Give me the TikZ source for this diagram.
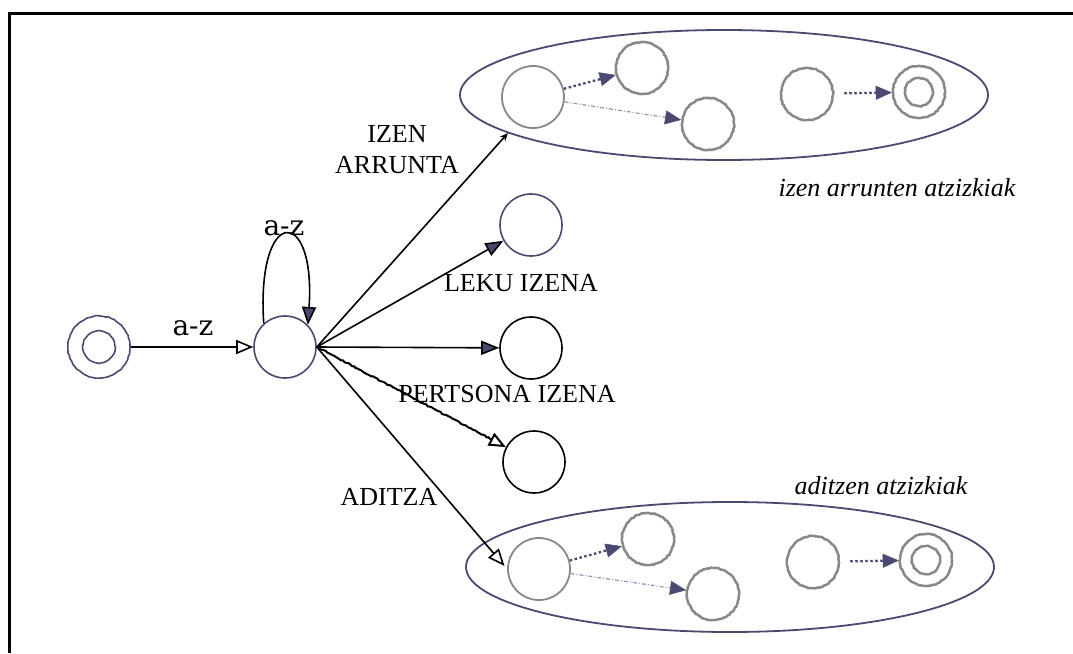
\documentclass[tikz,border=0pt]{standalone}
\usepackage{fontspec}
\setmainfont{Liberation Serif}
\newfontfamily\symlabfont{DejaVu Serif}
\usetikzlibrary{arrows.meta,shapes.geometric,decorations.pathmorphing}
\definecolor{slate}{RGB}{74,74,112}
\definecolor{stategray}{RGB}{136,136,136}
\definecolor{lightslate}{RGB}{150,150,180}

\begin{document}
\begin{tikzpicture}[x=1pt,y=-1pt,
  state/.style={circle, draw, inner sep=0pt, minimum size=62pt, line width=1.6pt},
  small/.style={circle, draw=stategray, inner sep=0pt, minimum size=52pt, line width=2.5pt,
    decorate, decoration={random steps, segment length=2pt, amplitude=0.5pt}},
  group/.style={ellipse, draw=slate, line width=1.8pt, inner sep=0pt,
    minimum width=528pt, minimum height=130pt},
  lab/.style={font=\fontsize{26}{30}\selectfont, inner sep=0pt, anchor=base},
  biglab/.style={font=\symlabfont\fontsize{28}{32}\selectfont, inner sep=0pt, anchor=base},
  ital/.style={font=\fontsize{26}{30}\selectfont\itshape, inner sep=0pt, anchor=base},
  edge/.style={draw=black, line width=1.6pt},
  fillhead/.style={-{Triangle[length=18pt, width=14pt, fill=slate]}},
  openhead/.style={-{Triangle[open, length=17pt, width=14pt, fill=white]}},
  densedot/.style={draw=slate, line width=2.3pt, dash pattern=on 2.5pt off 2.5pt,
    -{Triangle[length=16pt, width=14pt, color=slate, fill=slate, line width=0.5pt]}},
  thindot/.style={draw=lightslate, line width=1.2pt, dash pattern=on 4pt off 2pt on 1pt off 2pt,
    -{Triangle[length=16pt, width=14pt, color=slate, fill=slate, line width=0.5pt]}}
]
\useasboundingbox (0,0) rectangle (1073,653);

% frame (top and left sides)
\draw[line width=3pt] (9.5,653) -- (9.5,13.5) -- (1073,13.5);

% suffix groups
\node[group] (topell) at (724,95) {};
\node[group] (botell) at (730,567) {};

% main automaton states
\node[state, draw=slate, decorate, decoration={random steps, segment length=3pt, amplitude=0.4pt}] (start) at (99,347) {};
\node[circle, draw=slate, line width=1.6pt, inner sep=0pt, minimum size=32pt,
  decorate, decoration={random steps, segment length=3pt, amplitude=0.4pt}] (startin) at (99,347) {};
\node[state, draw=slate] (q0) at (285,347) {};
\node[state, draw=slate] (leku) at (531,225) {};
\node[state] (pers) at (531,348) {};
\node[state] (third) at (534,462) {};

% states inside the upper group
\node[state, draw=stategray, line width=1.8pt] (a0) at (533,97) {};
\node[small] (a1) at (642,68) {};
\node[small] (a2) at (708,124) {};
\node[small] (a3) at (807,94) {};
\node[small] (a4) at (919,92) {};
\node[small, minimum size=28pt] (a4in) at (919,92) {};

% states inside the lower group
\node[state, draw=stategray, line width=1.8pt] (c0) at (539,569) {};
\node[small] (c1) at (648,539) {};
\node[small] (c2) at (713,594) {};
\node[small] (c3) at (813,562) {};
\node[small] (c4) at (926,560) {};
\node[small, minimum size=28pt] (c4in) at (926,560) {};

% transitions
\draw[edge, openhead] (start) -- (q0);
\draw[edge, fillhead] (q0.132) .. controls (256,205) and (316,205) .. (q0.44);
\draw[edge, -{Stealth[length=8pt, width=7pt]}] (q0.east) -- (topell.190);
\draw[edge, fillhead] (q0.east) -- (leku);
\draw[edge, fillhead] (q0.east) -- (pers);
\draw[edge, line width=2pt, openhead, decorate,
  decoration={random steps, segment length=2pt, amplitude=0.6pt, post length=18pt}]
  (q0.east) -- (third);
\draw[edge, openhead, shorten >=4pt] (q0.east) -- (c0.west);

% transitions inside the groups
\draw[densedot] (a0) -- (a1);
\draw[thindot] (a0) -- (a2);
\draw[densedot, shorten <=10pt] (a3) -- (a4);
\draw[densedot] (c0) -- (c1);
\draw[thindot] (c0) -- (c2);
\draw[densedot, shorten <=10pt] (c3) -- (c4);

% labels
\node[biglab] (lloop) at (284,235) {a-z};
\node[biglab] (lstart) at (193,335) {a-z};
\node[lab] (lizen) at (397,142) {IZEN};
\node[lab] (larr) at (397,173) {ARRUNTA};
\node[lab] (lleku) at (521,291) {LEKU IZENA};
\node[lab] (lpers) at (507,402) {PERTSONA IZENA};
\node[lab] (ladi) at (389,505) {ADITZA};
\node[ital] (ltop) at (897,196) {izen arrunten atzizkiak};
\node[ital] (lbot) at (881,494) {aditzen atzizkiak};
\end{tikzpicture}
\end{document}
